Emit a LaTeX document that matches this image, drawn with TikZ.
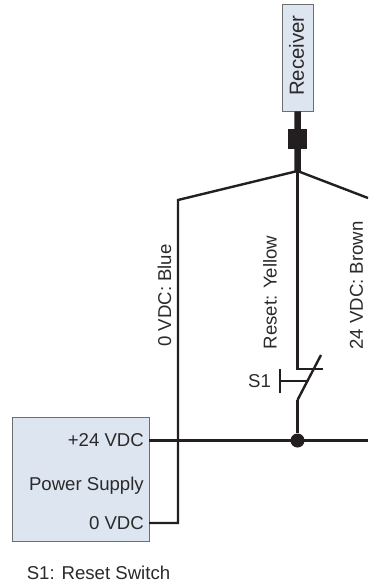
\documentclass[tikz,border=0pt]{standalone}
\usepackage{fontspec}
\setmainfont{Liberation Sans}
\definecolor{boxfill}{HTML}{DDE5F1}
\definecolor{boxline}{HTML}{6E6E6E}
\definecolor{wire}{HTML}{231F20}
\definecolor{txt}{HTML}{2A2A2A}
\begin{document}
\begin{tikzpicture}[x=1pt,y=-1pt,
  lbl/.style={font=\fontsize{18.6}{20}\selectfont,text=txt,inner sep=0pt},
  vlbl/.style={lbl,rotate=90},
  boxn/.style={draw=boxline,line width=0.9pt,fill=boxfill,inner sep=0pt,minimum width=0pt},
  wr/.style={draw=wire,line width=2.4pt},
  fat/.style={draw=wire,line width=6.5pt}]
\useasboundingbox (0,0) rectangle (368,584);
\node[boxn,minimum width=30.5pt,minimum height=106.5pt,anchor=center] (recv) at (297.75,57.75) {};
\node[vlbl,font=\fontsize{20.4}{22}\selectfont] (recvt) at (296.5,55.5) {Receiver};
\node[boxn,minimum width=137pt,minimum height=124pt] (psu) at (80.5,479) {};
\node[lbl,anchor=east] (p24) at (144,440.5) {+24 VDC};
\node[lbl,anchor=east] (pps) at (144,486) {Power Supply};
\node[lbl,anchor=east] (p0) at (144,523) {0 VDC};
\node[lbl] (leg) at (98.5,573) {S1: Reset Switch};
\node[vlbl] (lb) at (164.5,295.5) {0 VDC: Blue};
\node[vlbl] (ly) at (270,292.5) {Reset: Yellow};
\node[vlbl] (lbr) at (356.5,285.5) {24 VDC: Brown};
\node[lbl] (ls1) at (259.5,381) {S1};
\coordinate (j) at (297.5,171);
\coordinate (plug) at (297.5,139);
\coordinate (lc) at (178,200);
\coordinate (lb2) at (178,523);
\coordinate (psu0) at (149,523);
\coordinate (psu24) at (149,440.5);
\coordinate (rend) at (368,198);
\coordinate (hend) at (368,440.5);
\coordinate (sw1) at (297.5,369);
\coordinate (sw1e) at (323,369);
\coordinate (sw2) at (297.5,400);
\coordinate (swt) at (321,355);
\coordinate (btop) at (280,369);
\coordinate (bbot) at (280,393);
\coordinate (bm) at (280,381);
\coordinate (bme) at (308,381);
\draw[fat] (recv.south) -- (j);
\node[fill=wire,minimum width=19pt,minimum height=20pt,inner sep=0pt] (conn) at (plug) {};
\draw[wr,line join=miter] (j) -- (lc) -- (lb2) -- (psu0);
\draw[wr] (j) -- (rend);
\draw[wr] (j) -- (sw1) -- (sw1e);
\draw[wr] (sw2) -- (swt);
\draw[wr] (btop) -- (bbot);
\draw[wr] (bm) -- (bme);
\node[circle,fill=wire,minimum size=14pt,inner sep=0pt] (dot) at (297.5,440.5) {};
\draw[wr] (sw2) -- (dot);
\draw[wr] (psu24) -- (hend);
\end{tikzpicture}
\end{document}
